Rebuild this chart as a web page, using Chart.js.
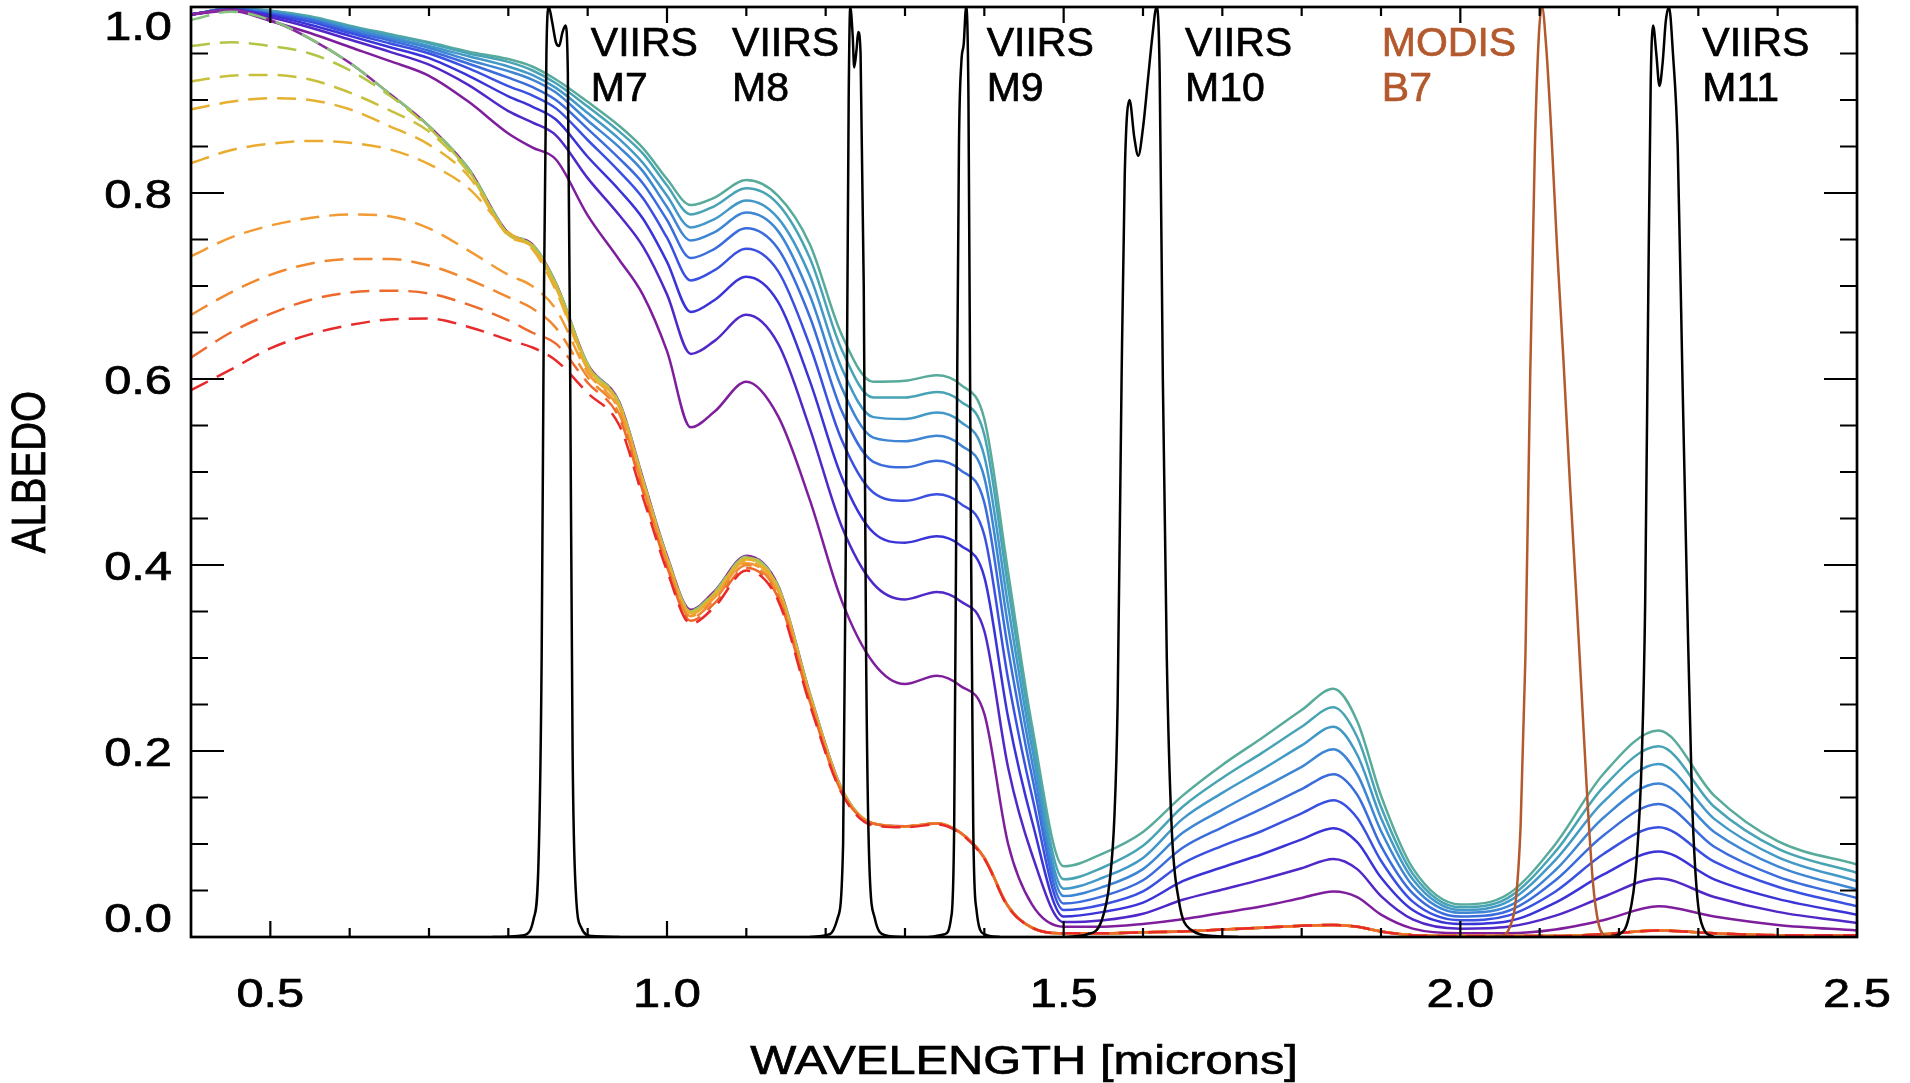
<!DOCTYPE html>
<html>
<head>
<meta charset="utf-8">
<title>Snow albedo and VIIRS / MODIS band responses</title>
<script src="https://cdn.jsdelivr.net/npm/chart.js@4.4.1/dist/chart.umd.min.js"></script>
<style>
  html, body { margin: 0; padding: 0; background: #fff; }
</style>
</head>
<body>
<canvas id="albedoChart" width="1910" height="1083"></canvas>
<script>
// Wavelength grid shared by all albedo curves (microns)
const wavelengths = [0.40, 0.45, 0.50, 0.55, 0.60, 0.65, 0.70, 0.75, 0.80, 0.83, 0.86, 0.90, 0.94, 0.97,
  1.00, 1.03, 1.06, 1.10, 1.14, 1.18, 1.22, 1.26, 1.30, 1.34, 1.37, 1.40, 1.43, 1.46, 1.50, 1.55,
  1.60, 1.65, 1.70, 1.75, 1.80, 1.84, 1.87, 1.90, 1.94, 2.00, 2.06, 2.12, 2.18, 2.25, 2.32, 2.40, 2.50];

// Clean snow, solid lines, largest grain (purple) to smallest grain (teal)
const grain1 = [.992, .996, .985, .972, .957, .942, .926, .898, .864, .849, .836, .776, .728, .690, .630, .548, .565, .597, .560, .470, .362, .295, .272, .281, .270, .240, .100, .035, .011, .011, .014, .019, .026, .033, .042, .049, .043, .024, .009, .004, .004, .008, .018, .033, .022, .013, .007];
const grain2 = [.992, .997, .989, .978, .965, .952, .938, .916, .888, .876, .862, .816, .776, .742, .691, .627, .641, .669, .638, .547, .442, .380, .363, .371, .361, .329, .182, .089, .016, .018, .025, .040, .051, .062, .074, .084, .073, .044, .019, .009, .011, .023, .043, .063, .043, .027, .015];
const grain3 = [.992, .997, .991, .981, .969, .957, .945, .926, .904, .893, .879, .839, .803, .772, .726, .672, .685, .710, .683, .598, .495, .435, .424, .431, .421, .387, .236, .125, .022, .027, .037, .060, .075, .089, .105, .117, .102, .064, .029, .014, .017, .037, .067, .092, .062, .041, .024];
const grain4 = [.992, .997, .992, .984, .972, .961, .950, .934, .915, .905, .891, .857, .823, .794, .752, .706, .717, .740, .716, .636, .535, .478, .469, .476, .466, .432, .277, .152, .029, .035, .049, .079, .098, .114, .133, .147, .128, .082, .038, .018, .023, .049, .089, .118, .081, .054, .033];
const grain5 = [.992, .998, .993, .986, .974, .964, .953, .939, .924, .914, .900, .869, .837, .810, .771, .730, .740, .762, .740, .667, .566, .511, .505, .512, .502, .467, .309, .173, .036, .044, .061, .096, .118, .138, .159, .175, .153, .098, .047, .022, .028, .061, .109, .143, .097, .065, .042];
const grain6 = [.992, .998, .994, .987, .976, .966, .956, .943, .931, .922, .908, .878, .849, .823, .785, .749, .758, .779, .759, .690, .591, .537, .533, .539, .529, .494, .334, .189, .044, .054, .073, .112, .137, .160, .183, .202, .175, .114, .055, .026, .033, .072, .128, .165, .113, .076, .051];
const grain7 = [.992, .998, .995, .988, .978, .968, .958, .947, .936, .927, .913, .886, .858, .832, .797, .763, .772, .792, .773, .711, .612, .559, .557, .564, .554, .517, .356, .204, .052, .064, .085, .127, .155, .180, .206, .226, .196, .128, .062, .029, .038, .083, .145, .186, .127, .086, .060];
const grain8 = [.992, .998, .996, .989, .979, .970, .961, .950, .941, .932, .918, .893, .866, .842, .808, .777, .786, .805, .788, .730, .632, .580, .580, .586, .576, .540, .376, .217, .062, .075, .098, .140, .171, .198, .226, .247, .215, .140, .068, .032, .042, .092, .161, .205, .140, .095, .069];
const grain9 = [.992, .998, .996, .990, .980, .971, .962, .952, .944, .936, .922, .898, .872, .848, .815, .787, .795, .814, .797, .745, .648, .597, .598, .604, .594, .557, .392, .228, .076, .090, .113, .152, .185, .214, .244, .267, .232, .152, .074, .035, .046, .100, .175, .222, .152, .103, .078];

// Lowest clean curve, and the shared tail of the dirty-snow curves (from 1.26 microns on)
const bundleClean = [.992, .997, .986, .966, .940, .907, .872, .826, .757, .745, .703, .616, .575, .492, .410, .352, .372, .410, .378, .262, .160, .122, .119, .122, .112, .085, .033, .010, .004, .004, .005, .006, .008, .010, .012, .013, .011, .006, .002, .001, .001, .001, .003, .007, .004, .002, .002];
const bundleTail = [.122, .119, .122, .112, .085, .033, .010, .004, .004, .005, .006, .008, .010, .012, .013, .011, .006, .002, .001, .001, .001, .003, .007, .004, .002, .002];

// Dirty snow, dashed lines, cleanest (green) to dirtiest (red)
const dirty1 = [.986, .995, .986, .966, .940, .907, .872, .826, .757, .745, .703, .616, .574, .491, .409, .351, .371, .409, .377, .262, .160, ...bundleTail];
const dirty2 = [.958, .962, .958, .950, .932, .905, .870, .824, .756, .744, .702, .615, .573, .490, .408, .350, .370, .408, .376, .261, .160, ...bundleTail];
const dirty3 = [.920, .926, .927, .922, .908, .889, .866, .822, .755, .743, .700, .614, .572, .489, .407, .349, .369, .407, .375, .260, .159, ...bundleTail];
const dirty4 = [.890, .898, .902, .900, .890, .872, .852, .818, .754, .742, .698, .612, .571, .488, .406, .348, .368, .406, .374, .259, .159, ...bundleTail];
const dirty5 = [.832, .846, .853, .856, .854, .847, .831, .805, .758, .740, .695, .610, .569, .486, .405, .347, .367, .404, .372, .258, .158, ...bundleTail];
const dirty6 = [.732, .752, .765, .773, .777, .775, .762, .738, .712, .700, .675, .607, .566, .484, .403, .345, .365, .402, .370, .256, .157, ...bundleTail];
const dirty7 = [.669, .693, .712, .724, .729, .729, .722, .707, .688, .676, .655, .602, .562, .481, .401, .343, .363, .400, .368, .255, .157, ...bundleTail];
const dirty8 = [.623, .650, .670, .685, .693, .695, .692, .680, .663, .650, .638, .596, .558, .478, .398, .340, .359, .397, .365, .253, .156, ...bundleTail];
const dirty9 = [.588, .610, .633, .648, .658, .664, .665, .656, .642, .634, .620, .585, .550, .472, .394, .337, .355, .394, .362, .250, .155,
  .120, .118, .121, .111, .084, .032, .010, .004, .004, .005, .006, .008, .010, .012, .013, .011, .006, .002, .001, .001, .001, .003, .007, .004, .002, .002];

// Relative spectral responses of the bands
const m7Wl = [0.78, 0.82, 0.832, 0.838, 0.842, 0.845, 0.848, 0.851, 0.855, 0.860, 0.864, 0.868, 0.872, 0.875, 0.878, 0.881, 0.885, 0.892, 0.905, 0.94];
const m7Resp = [0, 0.002, 0.02, 0.08, 0.3, 0.7, 0.95, 1.0, 0.985, 0.962, 0.958, 0.972, 0.98, 0.93, 0.6, 0.2, 0.05, 0.01, 0.001, 0];
const m8Wl = [1.18, 1.205, 1.215, 1.222, 1.226, 1.229, 1.231, 1.234, 1.236, 1.239, 1.241, 1.244, 1.248, 1.251, 1.255, 1.262, 1.275, 1.30];
const m8Resp = [0, 0.003, 0.02, 0.1, 0.5, 0.9, 1.0, 0.97, 0.935, 0.955, 0.973, 0.95, 0.7, 0.3, 0.08, 0.02, 0.002, 0];
const m9Wl = [1.33, 1.35, 1.358, 1.362, 1.365, 1.368, 1.371, 1.374, 1.377, 1.380, 1.383, 1.386, 1.390, 1.40, 1.42];
const m9Resp = [0, 0.003, 0.02, 0.12, 0.5, 0.85, 0.94, 0.96, 1.0, 0.9, 0.45, 0.12, 0.03, 0.003, 0];
const m10Wl = [1.50, 1.53, 1.548, 1.558, 1.564, 1.568, 1.573, 1.577, 1.583, 1.589, 1.594, 1.600, 1.606, 1.612, 1.617, 1.621, 1.625, 1.630, 1.636, 1.645, 1.66, 1.69, 1.72];
const m10Resp = [0, 0.003, 0.018, 0.06, 0.13, 0.25, 0.6, 0.82, 0.90, 0.86, 0.84, 0.87, 0.92, 0.97, 1.0, 0.93, 0.6, 0.3, 0.12, 0.04, 0.008, 0.001, 0];
const b7Wl = [2.04, 2.055, 2.062, 2.070, 2.076, 2.082, 2.088, 2.094, 2.099, 2.103, 2.108, 2.115, 2.122, 2.130, 2.138, 2.146, 2.153, 2.160, 2.167, 2.174, 2.182, 2.20];
const b7Resp = [0, 0.002, 0.01, 0.04, 0.12, 0.30, 0.60, 0.85, 0.97, 1.0, 0.96, 0.86, 0.74, 0.62, 0.49, 0.37, 0.26, 0.15, 0.06, 0.015, 0.002, 0];
const m11Wl = [2.18, 2.20, 2.212, 2.222, 2.229, 2.233, 2.237, 2.240, 2.243, 2.247, 2.251, 2.255, 2.259, 2.263, 2.268, 2.274, 2.280, 2.286, 2.292, 2.298, 2.306, 2.32];
const m11Resp = [0, 0.003, 0.02, 0.08, 0.2, 0.36, 0.7, 0.92, 0.98, 0.95, 0.915, 0.94, 0.985, 1.0, 0.95, 0.85, 0.6, 0.36, 0.15, 0.05, 0.01, 0];

// Band annotations
const bandTop = ['VIIRS', 'VIIRS', 'VIIRS', 'VIIRS', 'MODIS', 'VIIRS'];
const bandBottom = ['M7', 'M8', 'M9', 'M10', 'B7', 'M11'];
const bandLabelWl = [0.904, 1.082, 1.403, 1.653, 1.901, 2.305];

// Axis ticks
const xMajorTicks = [0.5, 1.0, 1.5, 2.0, 2.5];
const xTickLabels = ['0.5', '1.0', '1.5', '2.0', '2.5'];
const xMinorTicks = [0.6, 0.7, 0.8, 0.9, 1.1, 1.2, 1.3, 1.4, 1.6, 1.7, 1.8, 1.9, 2.1, 2.2, 2.3, 2.4];
const yMajorTicks = [0.0, 0.2, 0.4, 0.6, 0.8, 1.0];
const yTickLabels = ['0.0', '0.2', '0.4', '0.6', '0.8', '1.0'];
const yMinorTicks = [0.05, 0.1, 0.15, 0.25, 0.3, 0.35, 0.45, 0.5, 0.55, 0.65, 0.7, 0.75, 0.85, 0.9, 0.95];

// Styles
const FONT = '"Liberation Sans", Arial, Helvetica, sans-serif';
const AXIS_STRETCH = 1.22;
const BROWN = '#b4592d';
const LINE_W = 2.5;
const grainColors = ['#7e1e9c', '#5128c8', '#3a33d8', '#3a50e0', '#3b6cdc', '#3e86d4', '#4298c6', '#48a3b5', '#58ab9a'];
const dirtyColors = ['#86c47c', '#b4c444', '#c8c03c', '#e6b030', '#e9ac30', '#f29a34', '#f08830', '#ee6a2c', '#e82a2a'];

const toPoints = (xs, ys) => xs.map((x, i) => ({ x: x, y: ys[i] }));

const datasets = [];

// Band responses on top
[[m7Wl, m7Resp, '#000'], [m8Wl, m8Resp, '#000'], [m9Wl, m9Resp, '#000'],
 [m10Wl, m10Resp, '#000'], [b7Wl, b7Resp, BROWN], [m11Wl, m11Resp, '#000']].forEach(([w, r, c]) => {
  datasets.push({ data: toPoints(w, r), borderColor: c, borderWidth: LINE_W, order: 0 });
});

// Dirty snow (dashed)
[dirty1, dirty2, dirty3, dirty4, dirty5, dirty6, dirty7, dirty8, dirty9].forEach((vals, i) => {
  datasets.push({ data: toPoints(wavelengths, vals), borderColor: dirtyColors[i], borderWidth: LINE_W,
    borderDash: [19, 10], order: 1 + (8 - i) * 0.01 });
});

// Lowest clean curve under the dashes
datasets.push({ data: toPoints(wavelengths, bundleClean), borderColor: '#8a2a9e', borderWidth: LINE_W, order: 2 });

// Clean snow grain sizes (solid)
[grain1, grain2, grain3, grain4, grain5, grain6, grain7, grain8, grain9].forEach((vals, i) => {
  datasets.push({ data: toPoints(wavelengths, vals), borderColor: grainColors[i], borderWidth: LINE_W, order: 3 });
});

// Text drawn a little wider and heavier, as in the original figure
function drawStretched(ctx, text, x, y, align) {
  ctx.save();
  ctx.translate(x, y);
  ctx.scale(AXIS_STRETCH, 1);
  ctx.textAlign = align;
  ctx.fillText(text, 0, 0);
  ctx.strokeText(text, 0, 0);
  ctx.restore();
}

// IDL style box: inward ticks on all four sides, labels and band names
const idlFrame = {
  id: 'idlFrame',
  afterDatasetsDraw(chart) {
    const { ctx, chartArea: area, scales } = chart;
    const xs = scales.x;
    const ys = scales.y;
    ctx.save();
    ctx.strokeStyle = '#000';
    ctx.lineWidth = 2.2;
    ctx.beginPath();
    const xTick = (v, len) => {
      const px = xs.getPixelForValue(v);
      ctx.moveTo(px, area.bottom); ctx.lineTo(px, area.bottom - len);
      ctx.moveTo(px, area.top); ctx.lineTo(px, area.top + len);
    };
    const yTick = (v, len) => {
      const py = ys.getPixelForValue(v);
      ctx.moveTo(area.left, py); ctx.lineTo(area.left + len, py);
      ctx.moveTo(area.right, py); ctx.lineTo(area.right - len, py);
    };
    xMajorTicks.forEach(v => xTick(v, 16));
    xMinorTicks.forEach(v => xTick(v, 9));
    yMajorTicks.forEach(v => yTick(v, 33));
    yMinorTicks.forEach(v => yTick(v, 17));
    ctx.stroke();
    ctx.lineWidth = 2.7;
    ctx.strokeRect(area.left, area.top, area.right - area.left, area.bottom - area.top);

    // tick labels
    ctx.fillStyle = '#000';
    ctx.lineWidth = 0.7;
    ctx.font = '40px ' + FONT;
    ctx.textBaseline = 'middle';
    xMajorTicks.forEach((v, i) => {
      drawStretched(ctx, xTickLabels[i], xs.getPixelForValue(v), area.bottom + 59, 'center');
    });
    yMajorTicks.forEach((v, i) => {
      const py = Math.min(Math.max(ys.getPixelForValue(v) + 4, area.top + 22), area.bottom - 16);
      drawStretched(ctx, yTickLabels[i], area.left - 19, py, 'right');
    });

    // axis titles
    drawStretched(ctx, 'WAVELENGTH [microns]', (area.left + area.right) / 2, area.bottom + 126, 'center');
    ctx.save();
    ctx.translate(32, (area.top + area.bottom) / 2);
    ctx.scale(AXIS_STRETCH, 1);
    ctx.rotate(-Math.PI / 2);
    ctx.textAlign = 'center';
    ctx.fillText('ALBEDO', 0, 0);
    ctx.strokeText('ALBEDO', 0, 0);
    ctx.restore();

    // band names
    ctx.font = '41px ' + FONT;
    ctx.textAlign = 'left';
    ctx.textBaseline = 'alphabetic';
    bandLabelWl.forEach((w, i) => {
      const px = xs.getPixelForValue(w);
      const col = bandBottom[i] === 'B7' ? BROWN : '#000';
      ctx.fillStyle = col;
      ctx.strokeStyle = col;
      [[bandTop[i], 0.947], [bandBottom[i], 0.899]].forEach(([t, v]) => {
        ctx.fillText(t, px, ys.getPixelForValue(v));
        ctx.strokeText(t, px, ys.getPixelForValue(v));
      });
    });
    ctx.restore();
  }
};

new Chart(document.getElementById('albedoChart'), {
  type: 'line',
  data: { datasets: datasets },
  options: {
    responsive: false,
    animation: false,
    devicePixelRatio: 1,
    events: [],
    layout: { padding: { left: 191, top: 7, right: 53, bottom: 146 } },
    scales: {
      x: { type: 'linear', min: 0.4, max: 2.5, display: false },
      y: { type: 'linear', min: 0, max: 1, display: false }
    },
    elements: {
      point: { radius: 0 },
      line: { cubicInterpolationMode: 'monotone', fill: false }
    },
    plugins: {
      legend: { display: false },
      tooltip: { enabled: false }
    }
  },
  plugins: [idlFrame]
});
</script>
</body>
</html>
